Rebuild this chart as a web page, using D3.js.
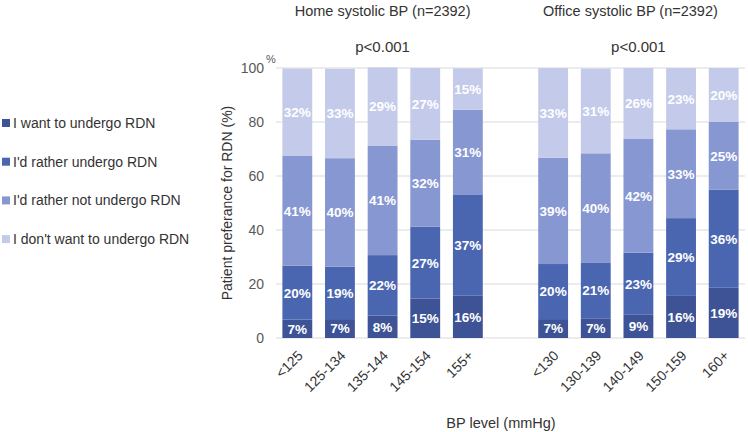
<!DOCTYPE html>
<html>
<head>
<meta charset="utf-8">
<script src="https://cdn.jsdelivr.net/npm/d3@7"></script>
<style>
  body { margin: 0; background: #fff; }
  svg { display: block; font-family: "Liberation Sans", Arial, sans-serif; }
</style>
</head>
<body>
<svg id="chart" width="748" height="432"></svg>
<script>
// ---- data ----
const categories = ["<125", "125-134", "135-144", "145-154", "155+", "", "<130", "130-139", "140-149", "150-159", "160+"];
const seriesNames = ["I want to undergo RDN", "I'd rather undergo RDN", "I'd rather not undergo RDN", "I don't want to undergo RDN"];
const wantValues       = [6.8, 7.0, 8.3, 14.6, 15.8, 0, 7.0, 7.3, 8.6, 15.6, 18.6];
const ratherValues     = [20.0, 19.4, 22.4, 26.6, 37.4, 0, 20.4, 20.7, 23.0, 28.8, 36.4];
const ratherNotValues  = [40.6, 40.2, 40.6, 32.2, 31.3, 0, 39.4, 40.4, 42.1, 32.9, 25.0];
const dontWantValues   = [32.4, 33.1, 28.9, 26.6, 15.4, 0, 33.2, 31.4, 26.3, 22.7, 20.0];
const labelValues = [
  [7, 7, 8, 15, 16, null, 7, 7, 9, 16, 19],
  [20, 19, 22, 27, 37, null, 20, 21, 23, 29, 36],
  [41, 40, 41, 32, 31, null, 39, 40, 42, 33, 25],
  [32, 33, 29, 27, 15, null, 33, 31, 26, 23, 20]
];
const yTicks = [0, 20, 40, 60, 80, 100];
const groupTitles = ["Home systolic BP (n=2392)", "Office systolic BP (n=2392)"];
const pValues = ["p<0.001", "p<0.001"];

const colors = ["#3d5396", "#4b66b1", "#8797d2", "#c4cbea"];

// ---- build ----
const keys = ["want", "rather", "ratherNot", "dontWant"];
const table = categories.map((c, i) => ({
  idx: i, cat: c,
  want: wantValues[i], rather: ratherValues[i],
  ratherNot: ratherNotValues[i], dontWant: dontWantValues[i]
}));
const stacked = d3.stack().keys(keys)(table);

const svg = d3.select("#chart");
const x = d3.scaleBand().domain(d3.range(categories.length)).range([276, 745])
  .paddingInner(0.3).paddingOuter(0.15);
const y = d3.scaleLinear().domain([0, 100]).range([338, 68]);

// gridlines
svg.append("g").selectAll("line").data(yTicks).join("line")
  .attr("x1", 276).attr("x2", 745)
  .attr("y1", d => y(d)).attr("y2", d => y(d))
  .attr("stroke", "#d9d9d9").attr("stroke-width", 1);

// y axis
const yAxis = svg.append("g").attr("transform", "translate(270,0)")
  .call(d3.axisLeft(y).tickValues(yTicks).tickSize(0).tickPadding(6));
yAxis.select(".domain").remove();
yAxis.selectAll("text").attr("font-size", 14).attr("fill", "#595959")
  .attr("font-family", "Liberation Sans, Arial, sans-serif");

svg.append("text").attr("x", 271).attr("y", 63).attr("font-size", 11)
  .attr("fill", "#595959").attr("text-anchor", "middle").text("%");

svg.append("text")
  .attr("transform", `translate(232,${(y(0) + y(100)) / 2}) rotate(-90)`)
  .attr("text-anchor", "middle").attr("font-size", 14).attr("fill", "#333")
  .text("Patient preferance for RDN (%)");

// bars
const layers = svg.append("g").selectAll("g").data(stacked).join("g")
  .attr("fill", (d, i) => colors[i]);
layers.selectAll("rect").data(d => d.filter(s => s.data.cat !== "")).join("rect")
  .attr("x", d => x(d.data.idx))
  .attr("width", x.bandwidth())
  .attr("y", d => y(d[1]))
  .attr("height", d => y(d[0]) - y(d[1]));

// value labels
stacked.forEach((layer, li) => {
  svg.append("g").selectAll("text").data(layer.filter(s => s.data.cat !== "")).join("text")
    .attr("x", d => x(d.data.idx) + x.bandwidth() / 2)
    .attr("y", d => y((d[0] + d[1]) / 2))
    .attr("dy", "0.36em")
    .attr("text-anchor", "middle")
    .attr("font-size", 13.5).attr("font-weight", "bold").attr("fill", "#fff")
    .text(d => labelValues[li][d.data.idx] + "%");
});

// x axis labels
const xAxis = svg.append("g").attr("transform", `translate(0,${y(0)})`)
  .call(d3.axisBottom(x).tickSize(0).tickFormat(i => categories[i]));
xAxis.select(".domain").remove();
xAxis.selectAll("text")
  .attr("font-size", 14).attr("fill", "#333")
  .attr("font-family", "Liberation Sans, Arial, sans-serif")
  .attr("text-anchor", "end")
  .attr("transform", "translate(3,15) rotate(-45)")
  .attr("dy", "0.35em").attr("y", 0).attr("x", 0);

svg.append("text").attr("x", 501).attr("y", 428).attr("text-anchor", "middle")
  .attr("font-size", 14.5).attr("fill", "#333").text("BP level (mmHg)");

// group titles
const groupCenters = [
  (x(0) + x(4) + x.bandwidth()) / 2,
  (x(6) + x(10) + x.bandwidth()) / 2
];
groupTitles.forEach((t, i) => {
  svg.append("text").attr("x", groupCenters[i] + (i === 0 ? 0 : -8)).attr("y", 16)
    .attr("text-anchor", "middle").attr("font-size", 14.5).attr("fill", "#333").text(t);
  svg.append("text").attr("x", groupCenters[i]).attr("y", 52)
    .attr("text-anchor", "middle").attr("font-size", 15).attr("fill", "#333").text(pValues[i]);
});

// legend
const legend = svg.append("g").selectAll("g").data(seriesNames).join("g")
  .attr("transform", (d, i) => `translate(2,${123 + i * 38.7})`);
legend.append("rect").attr("x", 0).attr("y", -4).attr("width", 8).attr("height", 8)
  .attr("fill", (d, i) => colors[i]);
legend.append("text").attr("x", 11).attr("y", 0).attr("dy", "0.36em")
  .attr("font-size", 14).attr("fill", "#333").text(d => d);
</script>
</body>
</html>
